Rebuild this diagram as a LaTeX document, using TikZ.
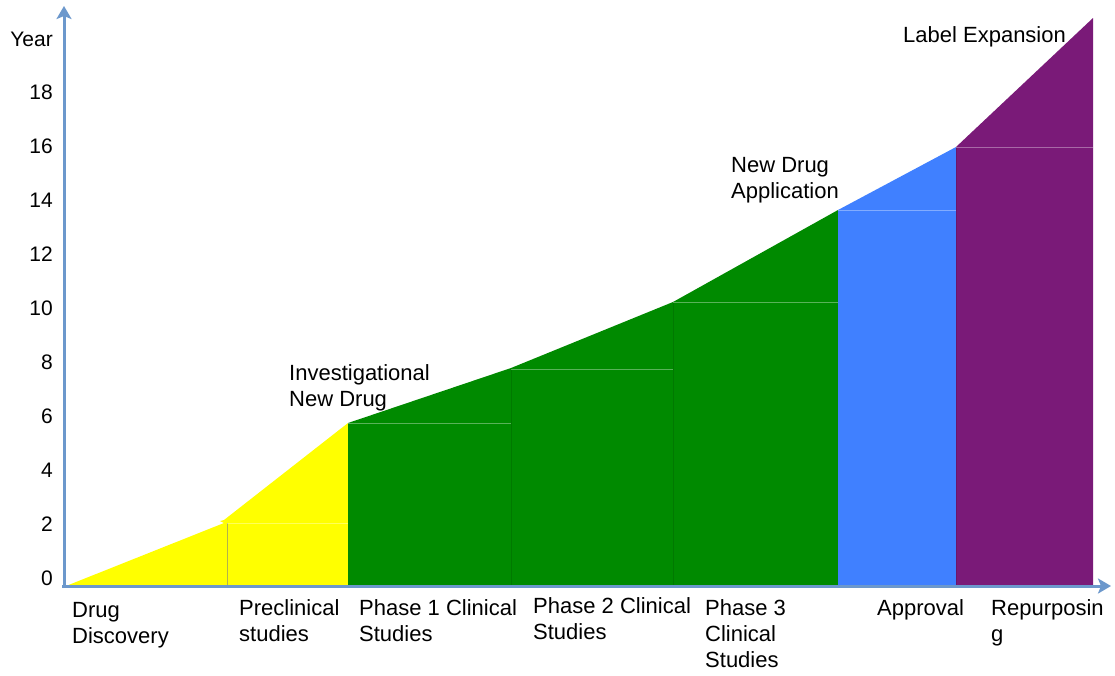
\documentclass[tikz,border=0pt]{standalone}
\usepackage{fontspec}
\setmainfont{Liberation Sans}
\usetikzlibrary{arrows.meta}
\definecolor{axisblue}{RGB}{108,152,204}
\definecolor{ylw}{RGB}{255,255,0}
\definecolor{grn}{RGB}{0,138,0}
\definecolor{blu}{RGB}{64,128,255}
\definecolor{prp}{RGB}{122,26,120}
\begin{document}
\begin{tikzpicture}[x=1pt,y=-1pt,
  lbl/.style={inner sep=0pt, anchor=north west, align=left, font=\fontsize{22}{26}\selectfont},
  ticklbl/.style={inner sep=0pt, anchor=base east, font=\fontsize{21}{26}\selectfont},
  axisline/.style={draw=axisblue, line width=3pt, -{Stealth[length=13pt,width=15pt,inset=3pt]}},
  divider/.style={draw=white, draw opacity=0.35, line width=1pt},
  vdivider/.style={draw=black, draw opacity=0.12, line width=1pt}]
\useasboundingbox (0,0) rectangle (1115,675);
\fill[white] (0,0) rectangle (1115,675);
% areas
\fill[ylw] (66,586) -- (224,523) -- (224,586) -- cycle;
\fill[ylw] (220,521) -- (224,520) -- (348,423) -- (348,586) -- (224,586) -- (224,523) -- cycle;
\fill[grn] (348,423) -- (511,368) -- (673,302) -- (838,210) -- (838,586) -- (348,586) -- cycle;
\fill[blu] (838,210) -- (956,147) -- (956,586) -- (838,586) -- cycle;
\fill[prp] (956,147) -- (1093,18) -- (1093,586) -- (956,586) -- cycle;
% dividers
\draw[draw=gray, draw opacity=0.6, line width=1pt] (227,523) -- (227,586);
\draw[divider] (227,523) -- (348,523);
\draw[divider] (348,423) -- (511,423);
\draw[vdivider] (511,368) -- (511,586);
\draw[divider] (511,369) -- (673,369);
\draw[vdivider] (673,302) -- (673,586);
\draw[divider] (673,302) -- (838,302);
\draw[divider] (838,210) -- (956,210);
\draw[vdivider] (956,147) -- (956,586);
\draw[divider] (956,147) -- (1093,147);
% axes
\coordinate (origin) at (64,586);
\coordinate (ytop) at (64,6);
\coordinate (xend) at (1111,586);
\coordinate (ystart) at (64,588);
\coordinate (xstart) at (62,586);
\draw[axisline] (ystart) -- (ytop);
\draw[axisline] (xstart) -- (xend);
% tick labels
\node[ticklbl] (tyear) at (53,46) {Year};
\node[ticklbl] (t18) at (53,99) {18};
\node[ticklbl] (t16) at (53,153) {16};
\node[ticklbl] (t14) at (53,207) {14};
\node[ticklbl] (t12) at (53,261) {12};
\node[ticklbl] (t10) at (53,315) {10};
\node[ticklbl] (t8) at (53,369) {8};
\node[ticklbl] (t6) at (53,423) {6};
\node[ticklbl] (t4) at (53,477) {4};
\node[ticklbl] (t2) at (53,531) {2};
\node[ticklbl] (t0) at (53,585) {0};
% phase labels
\node[lbl] (ldd) at (72,602) {Drug\\Discovery};
\node[lbl] (lpre) at (239,599) {Preclinical\\studies};
\node[lbl] (lp1) at (359,599) {Phase 1 Clinical\\Studies};
\node[lbl] (lp2) at (533,597) {Phase 2 Clinical\\Studies};
\node[lbl] (lp3) at (705,599) {Phase 3\\Clinical\\Studies};
\node[lbl] (lapp) at (877,599) {Approval};
\node[lbl] (lrep) at (991,599) {Repurposin\\g};
% milestone labels
\node[lbl] (lind) at (289,364) {Investigational\\New Drug};
\node[lbl] (lnda) at (731,157) {New Drug\\Application};
\node[lbl] (llab) at (903,26) {Label Expansion};
\end{tikzpicture}
\end{document}
